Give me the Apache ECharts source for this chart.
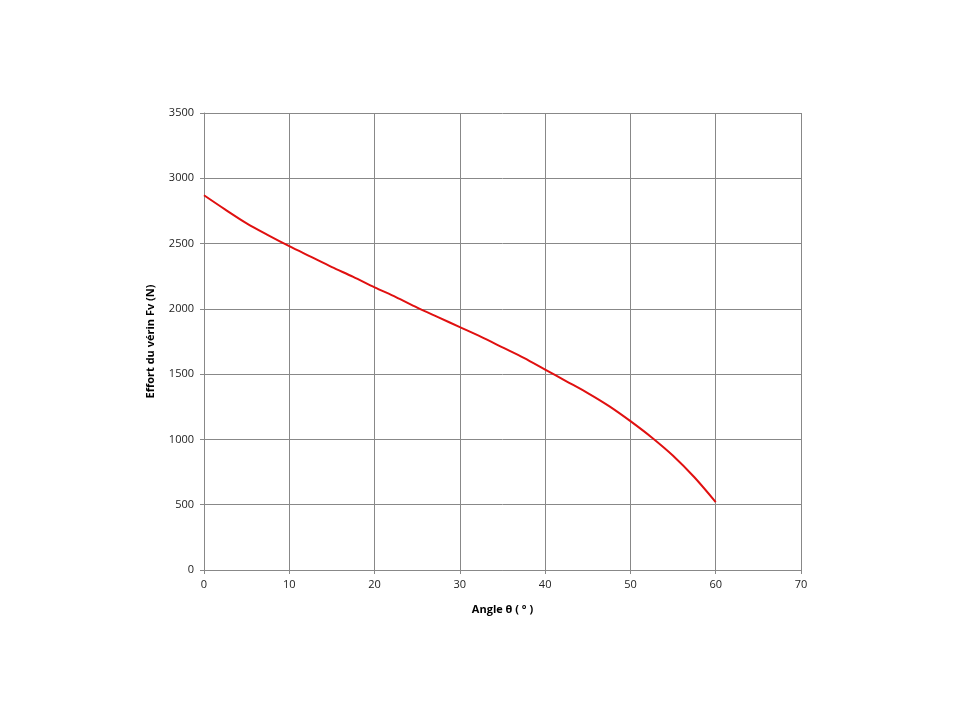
<!DOCTYPE html>
<html>
<head>
<meta charset="utf-8">
<script src="https://cdn.jsdelivr.net/npm/echarts@6/dist/echarts.min.js"></script>
<style>
  html, body { margin: 0; padding: 0; background: #fff; }
  #chart { width: 960px; height: 720px; }
</style>
</head>
<body>
<div id="chart"></div>
<script>
// angle (deg) and jack force (N)
var angles = [0, 2.5, 5, 7.5, 10, 12.5, 15, 17.5, 20, 22.5, 25, 27.5, 30,
              32.5, 35, 37.5, 40, 42.5, 45, 47.5, 50, 52.5, 55, 57.5, 60];
var forces = [2870, 2760, 2655, 2565, 2480, 2400, 2320, 2245, 2165, 2090, 2010, 1935, 1860,
              1785, 1705, 1625, 1535, 1445, 1355, 1255, 1140, 1015, 875, 710, 520];

var points = angles.map(function (a, i) { return [a, forces[i]]; });

var chart = echarts.init(document.getElementById('chart'));
var font = 'Open Sans, Liberation Sans, sans-serif';
var gridLine = { lineStyle: { color: '#888888', width: 1 } };

chart.setOption({
  animation: false,
  textStyle: { fontFamily: font },
  grid: { left: 204, right: 159, top: 113, bottom: 150 },
  xAxis: {
    type: 'value',
    min: 0, max: 70, interval: 10,
    name: 'Angle θ ( ° )',
    nameLocation: 'middle',
    nameGap: 34,
    nameTextStyle: { fontSize: 11, fontWeight: 'bold', color: '#000' },
    axisLine: { show: true, lineStyle: { color: '#888888' } },
    axisTick: { show: true, length: 4, lineStyle: { color: '#888888' } },
    axisLabel: { fontSize: 11, color: '#222', margin: 9 },
    splitLine: gridLine
  },
  yAxis: {
    type: 'value',
    min: 0, max: 3500, interval: 500,
    name: 'Effort du vérin Fv (N)',
    nameLocation: 'middle',
    nameGap: 48,
    nameTextStyle: { fontSize: 11, fontWeight: 'bold', color: '#000' },
    axisLine: { show: true, lineStyle: { color: '#888888' } },
    axisTick: { show: true, length: 4, lineStyle: { color: '#888888' } },
    axisLabel: { fontSize: 11, color: '#222', margin: 10, formatter: function (v) { return String(v); } },
    splitLine: gridLine
  },
  series: [{
    type: 'line',
    data: points,
    showSymbol: false,
    smooth: 0.3,
    lineStyle: { color: '#e01010', width: 2 },
    itemStyle: { color: '#e01010' }
  }]
});
</script>
</body>
</html>
